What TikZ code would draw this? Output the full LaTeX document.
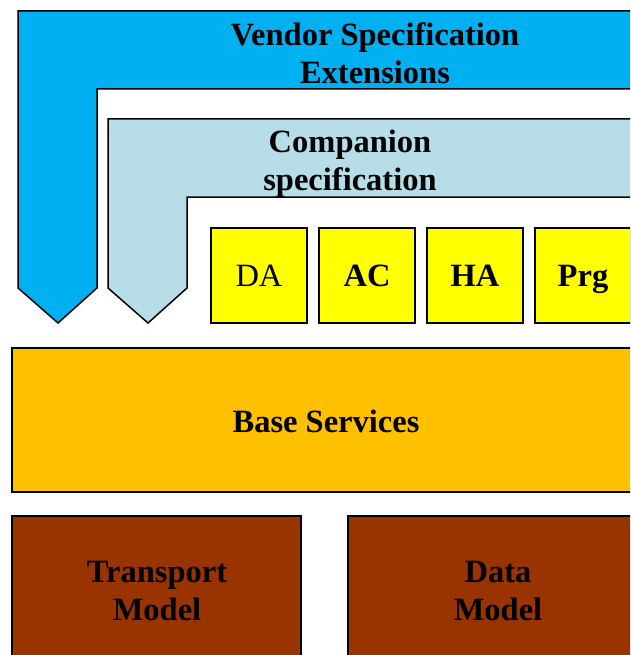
\documentclass[tikz,border=0pt]{standalone}
\usepackage{fontspec}
\setmainfont{Liberation Serif}
\definecolor{vendorblue}{HTML}{00B0F0}
\definecolor{compblue}{HTML}{B7DEE8}
\definecolor{profyellow}{HTML}{FFFF00}
\definecolor{baseorange}{HTML}{FFC000}
\definecolor{modelbrown}{HTML}{993300}
\newcommand{\bigtext}{\fontsize{32.5}{38}\selectfont}
\begin{document}
\begin{tikzpicture}[x=1pt,y=-1pt,
  outline/.style={draw=black,line width=1.5pt,line join=miter},
  label/.style={font=\bigtext\bfseries,align=center,inner sep=0pt},
  profile/.style={outline,fill=profyellow,minimum width=96pt,minimum height=95pt,inner sep=0pt,
    text height=25pt,text depth=4pt,font=\bigtext},
  strong/.style={font=\bigtext\bfseries},
  layer/.style={outline,inner sep=0pt}]
\useasboundingbox (0,0) rectangle (630,655);
\clip (0,0) rectangle (630,655);
% vendor extensions band
\draw[outline,fill=vendorblue] (18,11) -- (660,11) -- (660,89) -- (97,89) -- (97,288) -- (58,323) -- (18,288) -- cycle;
\node[label] (vendor) at (375,53) {Vendor Specification\\Extensions};
% companion specification band
\draw[outline,fill=compblue] (108,119) -- (660,119) -- (660,197) -- (187,197) -- (187,288) -- (148,323) -- (108,288) -- cycle;
\node[label] (companion) at (350,164) {Companion\\specification};
% profiles
\node[profile] (da) at (259,275.5) {DA};
\node[profile,strong] (ac) at (367,275.5) {AC};
\node[profile,strong] (ha) at (475,275.5) {HA};
\node[profile,strong] (prg) at (583,275.5) {Prg};
% base services
\draw[layer,fill=baseorange] (12,348) rectangle (640,492);
\node[label] (base) at (326,421) {Base Services};
% models
\draw[layer,fill=modelbrown] (12,516) rectangle (301,680);
\node[label] (transport) at (157,591) {Transport\\Model};
\draw[layer,fill=modelbrown] (348,516) rectangle (648,680);
\node[label] (data) at (498,591) {Data\\Model};
\end{tikzpicture}
\end{document}
